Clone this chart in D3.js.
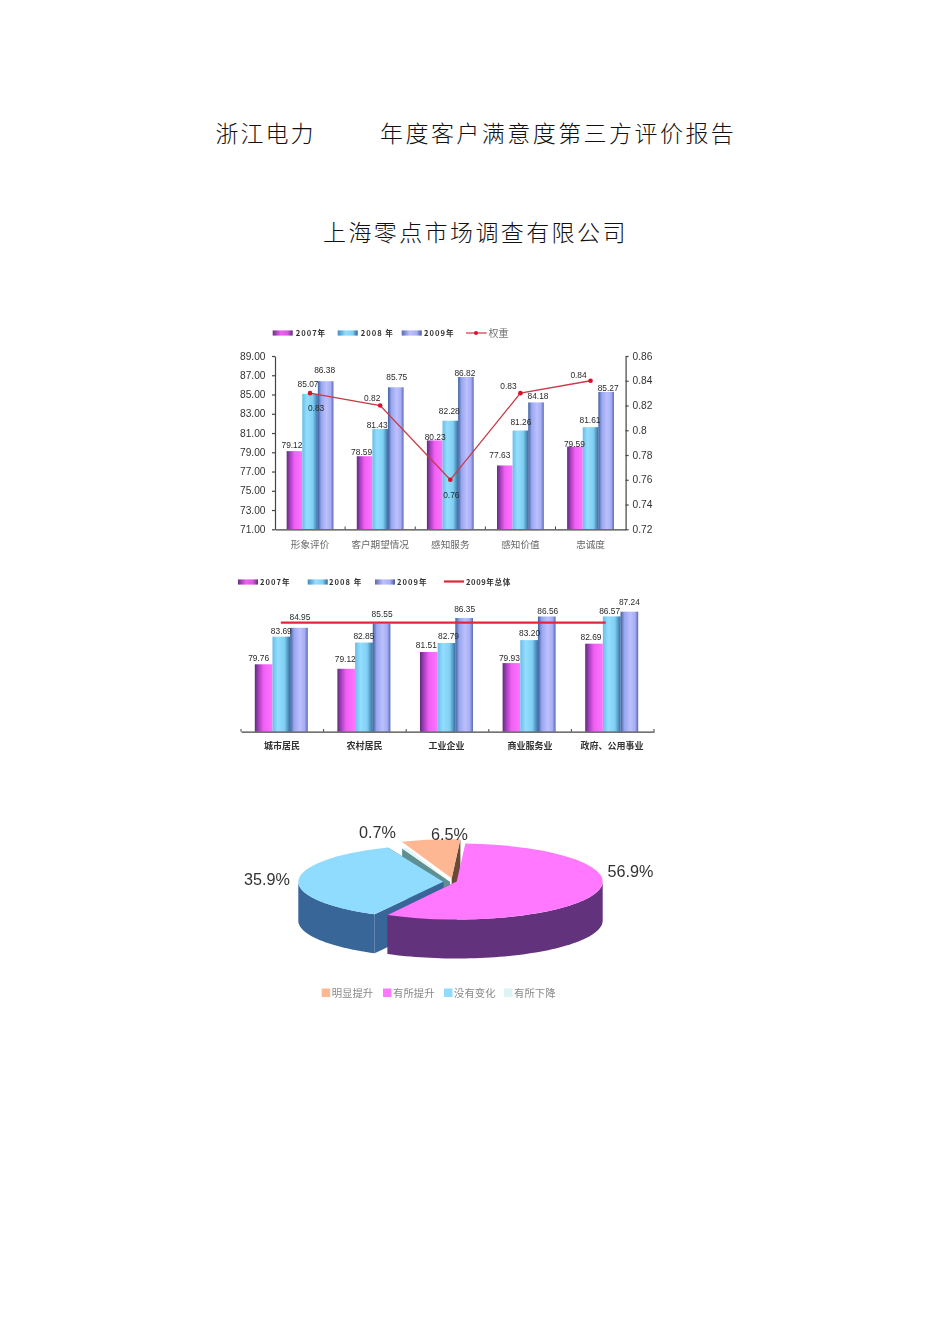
<!DOCTYPE html>
<html><head><meta charset="utf-8">
<script src="https://cdn.jsdelivr.net/npm/d3@7"></script>
<style>html,body{margin:0;padding:0;background:#fff}svg{display:block}</style></head>
<body><svg id="c" width="950" height="1344"></svg>
<script>
// ---- data ----
const titleA = "浙江电力", titleB = "年度客户满意度第三方评价报告", titleC = "上海零点市场调查有限公司";
const years = ["2007年", "2008 年", "2009年"];
const cats1 = ["形象评价", "客户期望情况", "感知服务", "感知价值", "忠诚度"];
const s1y2007 = [79.12, 78.59, 80.23, 77.63, 79.59];
const s1y2008 = [85.07, 81.43, 82.28, 81.26, 81.61];
const s1y2009 = [86.38, 85.75, 86.82, 84.18, 85.27];
const weights = [0.83, 0.82, 0.76, 0.83, 0.84];
const leftTicks = [71, 73, 75, 77, 79, 81, 83, 85, 87, 89];
const rightTicks = [0.72, 0.74, 0.76, 0.78, 0.8, 0.82, 0.84, 0.86];
const cats2 = ["城市居民", "农村居民", "工业企业", "商业服务业", "政府、公用事业"];
const s2y2007 = [79.76, 79.12, 81.51, 79.93, 82.69];
const s2y2008 = [83.69, 82.85, 82.79, 83.20, 86.57];
const s2y2009 = [84.95, 85.55, 86.35, 86.56, 87.24];
const overall2009 = [85.68, 85.68, 85.68, 85.68, 85.68];
const pieNames = ["明显提升", "有所提升", "没有变化", "有所下降"];
const pieValues = [6.5, 56.9, 35.9, 0.7];

// ---- styling / layout config ----
const svg = d3.select("#c");
const SANS = "'Liberation Sans',Arial,sans-serif", CJK = "'Noto Sans CJK SC',sans-serif";
const defs = svg.append("defs");
const grads = [
  [[0,"#5e2c78"],[.22,"#a83fc0"],[.5,"#f060f2"],[1,"#ff74ff"]],
  [[0,"#6abce8"],[.3,"#93deff"],[.68,"#80cff4"],[1,"#33709f"]],
  [[0,"#3f5f9e"],[.22,"#98a6ee"],[.55,"#bcc0ff"],[.82,"#a8aef5"],[1,"#5a6ab0"]]
];
grads.forEach((g,i)=>{
  const lg = defs.append("linearGradient").attr("id","g"+i);
  g.forEach(s=>lg.append("stop").attr("offset",s[0]).attr("stop-color",s[1]));
});
// swatches read dark at both ends
const swatch = [
  [[0,"#6a3088"],[.4,"#f060f2"],[.75,"#d858e0"],[1,"#5e2c78"]],
  [[0,"#3f8cc0"],[.4,"#93deff"],[.75,"#80cff4"],[1,"#2c6496"]],
  [[0,"#5a6ab0"],[.4,"#bcc0ff"],[.75,"#a8aef5"],[1,"#46559c"]]
];
swatch.forEach((g,i)=>{
  const lg = defs.append("linearGradient").attr("id","s"+i);
  g.forEach(s=>lg.append("stop").attr("offset",s[0]).attr("stop-color",s[1]));
});
defs.append("filter").attr("id","soft")
  .attr("filterUnits","userSpaceOnUse").attr("x",0).attr("y",0).attr("width",950).attr("height",1344)
  .append("feGaussianBlur").attr("stdDeviation",0.55);

// ---- titles ----
const tx = (x,y,s,size,opt={}) => svg.append("text").attr("x",x).attr("y",y).text(s)
  .attr("font-family",opt.font||CJK).attr("font-size",size).attr("fill",opt.fill||"#111")
  .attr("font-weight",opt.weight||300).attr("text-anchor",opt.anchor||"start")
  .attr("letter-spacing",opt.ls||0);
tx(215.5,142,titleA,23,{ls:2});
tx(380,142,titleB,23,{ls:2.45});
tx(323,241,titleC,23,{ls:2.4});

const root = svg.append("g").attr("filter","url(#soft)");
const t2 = (g,x,y,s,size,opt={}) => g.append("text").attr("x",x).attr("y",y).text(s)
  .attr("font-family",opt.font||SANS).attr("font-size",size).attr("fill",opt.fill||"#333")
  .attr("font-weight",opt.weight||400).attr("text-anchor",opt.anchor||"middle")
  .attr("letter-spacing",opt.ls||0);

function styleAxis(a,color){ a.selectAll("path,line").attr("stroke",color).attr("stroke-width",1.2); a.selectAll("text").remove(); }

// ---- chart 1 ----
{
  const g = root.append("g");
  const x0 = d3.scaleBand().domain(cats1).range([275,625.6]);
  const x1 = d3.scaleBand().domain(d3.range(3)).range([-23.4,23.4]);
  const y = d3.scaleLinear().domain([71,89]).range([529.3,356]);
  const yr = d3.scaleLinear().domain([0.72,0.86]).range([529.3,356]);
  const series = [s1y2007,s1y2008,s1y2009];
  series.forEach((vals,i)=>{
    g.selectAll(null).data(vals).join("rect")
      .attr("x",(d,k)=>x0(cats1[k])+x0.bandwidth()/2+x1(i)).attr("width",x1.bandwidth())
      .attr("y",d=>y(d)).attr("height",d=>y(71)-y(d)).attr("fill",`url(#g${i})`);
  });
  const ax = g.append("g").attr("transform","translate(0,529.3)").call(d3.axisBottom(x0).tickSize(0));
  styleAxis(ax,"#444");
  const al = g.append("g").attr("transform","translate(275,0)").call(d3.axisLeft(y).tickValues(leftTicks).tickSize(3).tickSizeOuter(0));
  styleAxis(al,"#444");
  const ar = g.append("g").attr("transform","translate(625.6,0)").call(d3.axisRight(yr).tickValues(rightTicks).tickSize(3).tickSizeOuter(0));
  styleAxis(ar,"#444");
  cats1.slice(1).forEach(c=>g.append("line").attr("x1",x0(c)).attr("x2",x0(c)).attr("y1",529.3).attr("y2",526.5).attr("stroke","#444"));
  leftTicks.forEach(v=>t2(g,265.5,y(v)+3.7,d3.format(".2f")(v),10.2,{anchor:"end",fill:"#333"}));
  rightTicks.forEach(v=>t2(g,632.5,yr(v)+3.7,String(v),10.2,{anchor:"start",fill:"#333"}));
  cats1.forEach(c=>t2(g,x0(c)+x0.bandwidth()/2,547.5,c,9.6,{font:CJK,fill:"#666"}));
  // line
  const cx = k=>x0(cats1[k])+x0.bandwidth()/2;
  g.append("path").datum(weights).attr("fill","none").attr("stroke","#c83a48").attr("stroke-width",1.3)
    .attr("d",d3.line().x((d,k)=>cx(k)).y(d=>yr(d)));
  g.selectAll(null).data(weights).join("circle").attr("cx",(d,k)=>cx(k)).attr("cy",d=>yr(d)).attr("r",2.3).attr("fill","#e0102a");
  // value labels: nudges relative to the top of each bar
  const nudge1 = [
    [[-2.5,-3],[-2,-7],[-1,-8.5]],
    [[-3,-1.5],[-3,-.5],[1,-7]],
    [[.5,0],[-1,-6.5],[-1,-1]],
    [[-5,-7],[.5,-5.5],[2,-3.5]],
    [[-.5,0],[-.5,-4.5],[2,-.5]]
  ];
  series.forEach((vals,i)=>vals.forEach((v,k)=>{
    const n = nudge1[k][i];
    t2(g,cx(k)+x1(i)+x1.bandwidth()/2+n[0],y(v)+n[1],d3.format(".2f")(v),8.4,{fill:"#2a2a2a"});
  }));
  const wn = [[6,18],[-8,-5],[1,18],[-12,-4],[-12,-3]];
  weights.forEach((v,k)=>t2(g,cx(k)+wn[k][0],yr(v)+wn[k][1],String(v),8.4,{fill:"#2a2a2a"}));
  // legend
  const ly = 333;
  [[272.7,295.7],[337.7,360.7],[401.7,424]].forEach((p,i)=>{
    g.append("rect").attr("x",p[0]).attr("y",ly-2.6).attr("width",20).attr("height",5.2).attr("fill",`url(#s${i})`);
    t2(g,p[1],ly+3,years[i],7.6,{anchor:"start",weight:700,ls:1,fill:"#333",font:CJK});
  });
  g.append("line").attr("x1",466).attr("x2",486.7).attr("y1",ly).attr("y2",ly).attr("stroke","#c83a48").attr("stroke-width",1.2);
  g.append("circle").attr("cx",476).attr("cy",ly).attr("r",2).attr("fill","#e0102a");
  t2(g,488.5,ly+3.6,"权重",10,{anchor:"start",font:CJK,fill:"#777"});
}

// ---- chart 2 ----
{
  const g = root.append("g");
  const x0 = d3.scaleBand().domain(cats2).range([241,654]);
  const x1 = d3.scaleBand().domain(d3.range(3)).range([-26.5,26.5]);
  const y = d3.scaleLinear().domain([70.17,87.24]).range([731.7,611.7]);
  const series = [s2y2007,s2y2008,s2y2009];
  const cx = k=>x0(cats2[k])+x0.bandwidth()/2;
  series.forEach((vals,i)=>{
    g.selectAll(null).data(vals).join("rect")
      .attr("x",(d,k)=>cx(k)-1+x1(i)).attr("width",x1.bandwidth())
      .attr("y",d=>y(d)).attr("height",d=>y(70.17)-y(d)).attr("fill",`url(#g${i})`);
  });
  const ax = g.append("g").attr("transform","translate(0,731.7)").call(d3.axisBottom(x0).tickSize(0));
  styleAxis(ax,"#444");
  x0.domain().concat(["end"]).forEach((c,i)=>{
    const xp = i<5 ? x0(c) : 654;
    g.append("line").attr("x1",xp).attr("x2",xp).attr("y1",731.7).attr("y2",729).attr("stroke","#444");
  });
  g.append("path").datum(overall2009).attr("fill","none").attr("stroke","#e0283a").attr("stroke-width",2.2)
    .attr("d",d3.line().x((d,k)=>k<4?cx(k)-1.5:cx(k)-7).y(d=>y(d)));
  const nudge2 = [
    [[-5,-3.5],[0,-3],[1,-7.5]],
    [[-1,-6.5],[0,-4],[.5,-6.5]],
    [[-2.5,-3.5],[2,-3.5],[.5,-5.5]],
    [[-2,-2],[.5,-4.5],[1,-2.5]],
    [[-3,-3.5],[-2,-2],[0,-7]]
  ];
  series.forEach((vals,i)=>vals.forEach((v,k)=>{
    const n = nudge2[k][i];
    t2(g,cx(k)-1+x1(i)+x1.bandwidth()/2+n[0],y(v)+n[1],d3.format(".2f")(v),8.4,{fill:"#2a2a2a"});
  }));
  const labelX = [282,364.5,446.5,530,612];
  cats2.forEach((c,k)=>t2(g,labelX[k],749,c,9,{font:CJK,weight:700,fill:"#333"}));
  const ly = 582;
  [[238,260],[307.7,329],[375,397]].forEach((p,i)=>{
    g.append("rect").attr("x",p[0]).attr("y",ly-2.6).attr("width",20).attr("height",5.2).attr("fill",`url(#s${i})`);
    t2(g,p[1],ly+3,years[i],7.6,{anchor:"start",weight:700,ls:1,fill:"#333",font:CJK});
  });
  g.append("line").attr("x1",444).attr("x2",464).attr("y1",ly-.5).attr("y2",ly-.5).attr("stroke","#e0283a").attr("stroke-width",2.2);
  t2(g,466,ly+3,"2009年总体",7.6,{anchor:"start",weight:700,ls:.6,fill:"#333",font:CJK});
}

// ---- chart 3: tilted, exploded pie ----
{
  const g = root.append("g");
  const rad = Math.PI/180, depth = 39;
  const pie = d3.pie().sort(null).startAngle(-20*rad).endAngle(340*rad)(pieValues);
  const look = [
    {cx:451.7,cy:878.3, rx:146, ry:39,  top:"#fdb893", side:"#7a5f50", wall:"#6b4a3a", walls:[1]},
    {cx:456.7,cy:881.5, rx:146, ry:38,  top:"#ff78ff", side:"#64317c", wall:"#64317c", walls:[1]},
    {cx:443.3,cy:881.7, rx:145, ry:37,  top:"#90dcff", side:"#386699", wall:"#386699", walls:[0,1]},
    {cx:450,  cy:881.7, rx:125, ry:36,  top:"#e4f6f6", side:"#5d9090", wall:"#5d9090", walls:[0]}
  ];
  const pt = (l,a,dz=0)=>[l.cx+l.rx*Math.sin(a), l.cy-l.ry*Math.cos(a)+dz];
  const line = d3.line();
  function drawSlice(i){
    const d = pie[i], l = look[i], as = [d.startAngle,d.endAngle];
    l.walls.forEach(w=>{
      const p = pt(l,as[w]);
      g.append("path").attr("fill",l.wall)
        .attr("d",line([[l.cx,l.cy],p,[p[0],p[1]+depth],[l.cx,l.cy+depth]])+"Z");
    });
    const lo = Math.max(as[0],90*rad), hi = Math.min(as[1],270*rad);
    if(hi>lo){
      const n = 60, arc = d3.range(n+1).map(k=>lo+(hi-lo)*k/n);
      const pts = arc.map(a=>pt(l,a)).concat(arc.slice().reverse().map(a=>pt(l,a,depth)));
      g.append("path").attr("fill",l.side).attr("d",line(pts)+"Z");
    }
    const arc = d3.arc().innerRadius(0).outerRadius(l.rx).startAngle(as[0]).endAngle(as[1]);
    g.append("path").attr("d",arc()).attr("fill",l.top)
      .attr("transform",`translate(${l.cx},${l.cy}) scale(1,${l.ry/l.rx})`);
  }
  [3,0,2,1].forEach(drawSlice);

  const labelPos = [[449.5,839.5],[630.5,877],[267,884.5],[377.5,837.5]];
  pieValues.forEach((v,i)=>t2(g,labelPos[i][0],labelPos[i][1],d3.format(".1f")(v)+"%",16.2,{fill:"#333"}));

  const sw = [321.7,383,444,504], swc = ["#fdb893","#ff78ff","#90dcff","#dcf4f4"];
  pieNames.forEach((n,i)=>{
    g.append("rect").attr("x",sw[i]).attr("y",988.5).attr("width",8.5).attr("height",8.5).attr("fill",swc[i]);
    t2(g,sw[i]+10,996.5,n,10.4,{anchor:"start",font:CJK,fill:"#888"});
  });
}
</script></body></html>
